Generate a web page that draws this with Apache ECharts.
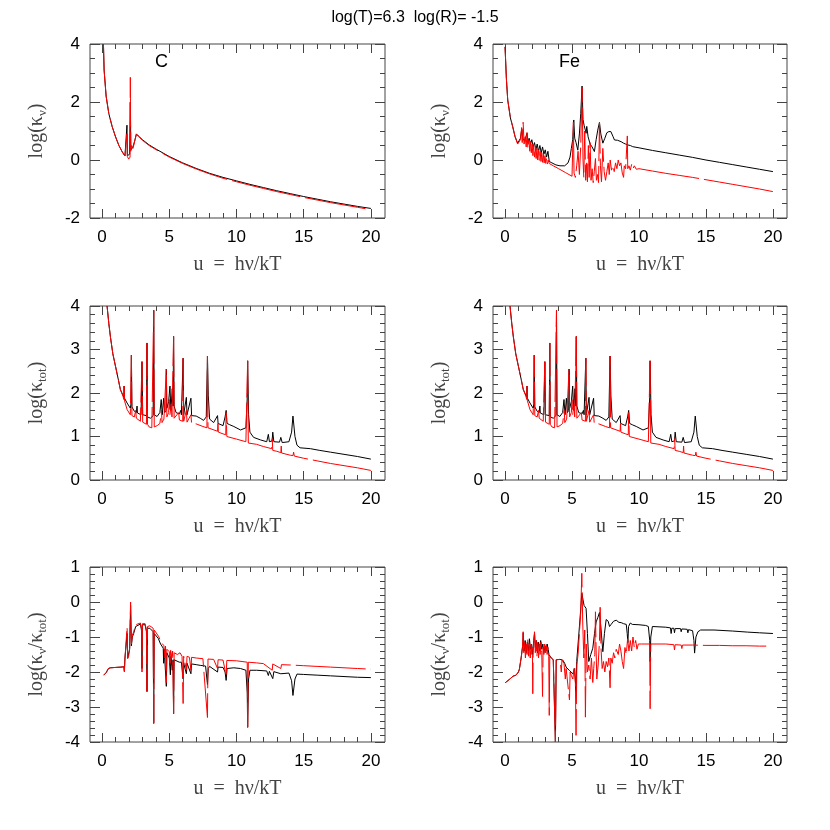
<!DOCTYPE html>
<html>
<head>
<meta charset="utf-8">
<script src="https://cdn.jsdelivr.net/npm/echarts@6/dist/echarts.min.js"></script>
<style>
html, body { margin: 0; background: #fff; }
#chart { width: 830px; height: 830px; }
</style>
</head>
<body>
<div id="chart"></div>
<script>
// tick positions on u axis
const xMajorTicks = [0, 5, 10, 15, 20]
const xMinorTicks = [0, 1, 2, 3, 4, 5, 6, 7, 8, 9, 10, 11, 12, 13, 14, 15, 16, 17, 18, 19, 20]

// C, log(kappa_nu)
const cNuBlack = [[0.1,4.0],[0.15,3.1],[0.3,2.2],[0.5,1.6],[0.75,1.15],[1.0,0.8],[1.25,0.5],[1.5,0.28],[1.7,0.14],[1.82,0.12],[1.85,1.2],[1.88,0.15],[1.95,0.12],[2.05,0.2],[2.1,2.0],[2.14,0.35],[2.3,0.45],[2.45,0.7],[2.55,0.9],[2.7,0.83],[3.0,0.7],[3.5,0.52],[4.0,0.38],[5.0,0.12],[6.0,-0.1],[7.0,-0.29],[8.0,-0.46],[9.0,-0.6],[10.0,-0.72],[11.0,-0.84],[12.0,-0.95],[13.0,-1.06],[14.0,-1.16],[15.0,-1.26],[16.0,-1.35],[17.0,-1.44],[18.0,-1.52],[19.0,-1.6],[20.0,-1.67]]
const cNuRed = [[0.1,4.0],[0.15,3.1],[0.3,2.2],[0.5,1.6],[0.75,1.15],[1.0,0.8],[1.25,0.5],[1.5,0.28],[1.7,0.14],[1.82,0.12],[1.85,0.9],[1.88,0.12],[1.98,0.03],[2.08,0.1],[2.1,2.85],[2.13,0.3],[2.2,0.5],[2.3,0.4],[2.45,0.7],[2.55,0.88],[2.7,0.82],[3.0,0.68],[3.5,0.5],[4.0,0.36],[5.0,0.1],[6.0,-0.12],[7.0,-0.31],[8.0,-0.48],[9.0,-0.63],[10.0,-0.75],[11.0,-0.87],[12.0,-0.98],[13.0,-1.09],[14.0,-1.19],[15.0,-1.29],[16.0,-1.38],[17.0,-1.47],[18.0,-1.55],[19.0,-1.63],[19.6,-1.68]]

// Fe, log(kappa_nu)
const feNuBlack = [[0.0,3.9],[0.1,2.8],[0.2,2.07],[0.4,1.45],[0.57,1.15],[0.75,0.8],[0.94,0.58],[1.05,0.6],[1.15,0.75],[1.24,1.05],[1.32,0.75],[1.44,0.66],[1.55,0.8],[1.64,0.92],[1.72,0.62],[1.8,0.75],[1.9,0.55],[2.0,0.7],[2.1,0.45],[2.2,0.6],[2.3,0.35],[2.4,0.55],[2.5,0.3],[2.6,0.5],[2.7,0.25],[2.8,0.45],[2.9,0.2],[3.0,0.35],[3.1,0.1],[3.2,0.3],[3.3,-0.05],[3.5,-0.1],[3.8,-0.17],[4.1,-0.2],[4.45,-0.2],[4.7,-0.1],[4.85,0.1],[4.95,0.4],[5.05,0.7],[5.13,1.38],[5.2,0.75],[5.3,0.6],[5.43,0.34],[5.55,0.9],[5.65,1.6],[5.75,2.55],[5.82,1.4],[5.9,1.2],[6.05,0.92],[6.1,1.16],[6.2,0.8],[6.35,0.55],[6.5,0.45],[6.67,0.29],[6.8,0.7],[6.92,1.03],[7.05,1.3],[7.15,0.9],[7.3,0.58],[7.45,0.75],[7.6,0.94],[7.75,0.98],[7.9,0.98],[8.05,0.82],[8.17,0.69],[8.4,0.68],[8.67,0.63],[8.85,0.58],[9.0,0.55],[9.15,0.52],[9.25,0.58],[9.35,0.5],[9.53,0.46],[10.0,0.42],[11.0,0.33],[12.0,0.25],[13.0,0.17],[14.0,0.09],[15.0,0.0],[16.0,-0.08],[17.0,-0.16],[18.0,-0.24],[19.0,-0.32],[20.0,-0.4]]
const feNuRed = [[0.0,3.9],[0.1,2.8],[0.2,2.07],[0.4,1.45],[0.57,1.15],[0.75,0.8],[0.94,0.55],[1.05,0.55],[1.15,0.7],[1.24,1.12],[1.28,0.6],[1.35,1.3],[1.42,0.55],[1.5,0.8],[1.58,0.45],[1.64,0.95],[1.7,0.4],[1.78,0.7],[1.85,0.3],[1.9,0.65],[1.96,0.25],[2.02,0.55],[2.08,0.15],[2.14,0.5],[2.2,0.1],[2.26,0.45],[2.32,0.05],[2.38,0.4],[2.44,0.0],[2.5,0.35],[2.56,-0.02],[2.62,0.3],[2.68,-0.05],[2.74,0.25],[2.8,-0.08],[2.86,0.2],[2.92,-0.1],[2.98,0.15],[3.04,-0.12],[3.1,0.05],[3.16,-0.14],[3.22,0.0],[3.3,-0.12],[3.6,-0.2],[4.0,-0.3],[4.5,-0.43],[5.0,-0.56],[5.05,-0.5],[5.1,1.3],[5.15,-0.45],[5.25,-0.6],[5.35,-0.2],[5.45,0.3],[5.55,-0.5],[5.65,0.5],[5.75,2.5],[5.82,0.0],[5.88,-0.6],[5.95,1.0],[6.02,-0.7],[6.1,-0.1],[6.15,-0.75],[6.22,0.5],[6.28,-0.6],[6.35,0.6],[6.42,-0.7],[6.5,-0.3],[6.58,-0.78],[6.66,-0.4],[6.75,0.05],[6.82,-0.7],[6.9,-0.5],[6.98,-0.78],[7.05,1.3],[7.12,-0.2],[7.2,-0.75],[7.3,0.4],[7.4,-0.4],[7.5,-0.7],[7.6,-0.4],[7.7,-0.1],[7.78,-0.5],[7.85,0.0],[7.95,-0.35],[8.05,-0.2],[8.15,-0.4],[8.25,-0.1],[8.35,-0.3],[8.45,0.0],[8.55,-0.2],[8.65,-0.1],[8.75,-0.45],[8.85,-0.6],[8.9,-0.2],[9.0,-0.3],[9.1,-0.25],[9.13,0.83],[9.16,-0.3],[9.25,-0.2],[9.35,-0.35],[9.45,-0.15],[9.55,-0.3],[9.65,-0.2],[9.8,-0.32],[10.0,-0.3],[11.0,-0.38],[12.0,-0.46],[13.0,-0.53],[14.0,-0.6],[15.0,-0.68],[16.0,-0.76],[17.0,-0.84],[18.0,-0.92],[19.0,-1.0],[20.0,-1.09]]

// log(kappa_tot), same in both columns
const totBlack = [[0.37,4.0],[0.5,3.6],[0.62,3.29],[0.8,2.9],[1.0,2.61],[1.2,2.32],[1.36,2.08],[1.55,1.95],[1.62,1.9],[1.64,2.16],[1.67,1.88],[1.86,1.77],[2.1,1.65],[2.15,1.75],[2.18,2.87],[2.22,1.68],[2.4,1.58],[2.55,1.55],[2.6,1.7],[2.63,1.54],[2.9,1.5],[2.97,2.72],[3.02,1.5],[3.3,1.48],[3.34,3.15],[3.38,1.45],[3.6,1.42],[3.8,1.48],[3.84,3.9],[3.88,1.5],[4.09,1.46],[4.3,1.55],[4.4,1.85],[4.48,1.5],[4.58,1.88],[4.66,1.55],[4.75,1.6],[4.78,2.55],[4.82,1.65],[4.95,1.8],[5.05,2.16],[5.12,1.6],[5.22,2.1],[5.28,1.7],[5.32,3.3],[5.36,1.7],[5.5,1.55],[5.75,1.52],[5.85,1.6],[5.9,1.5],[6.03,2.8],[6.07,1.5],[6.27,1.9],[6.32,1.5],[6.61,1.88],[6.66,1.48],[7.0,1.47],[7.3,1.42],[7.55,1.37],[7.75,1.45],[7.84,2.85],[7.9,1.95],[8.0,1.4],[8.3,1.32],[8.59,1.48],[8.63,1.3],[9.0,1.25],[9.15,1.45],[9.23,1.6],[9.3,1.3],[9.5,1.27],[9.8,1.23],[10.3,1.15],[10.7,1.2],[10.8,1.9],[10.83,2.74],[10.9,1.5],[11.0,1.1],[11.27,0.98],[11.8,0.92],[12.25,0.88],[12.37,1.05],[12.45,0.88],[12.65,0.9],[12.7,1.1],[12.78,0.88],[13.2,0.87],[13.3,0.98],[13.4,0.86],[13.9,0.88],[14.1,1.1],[14.2,1.47],[14.35,1.0],[14.5,0.8],[14.73,0.74],[15.5,0.72],[16.2,0.68],[17.0,0.64],[18.0,0.59],[19.0,0.54],[20.0,0.48]]
const totRed = [[0.37,4.0],[0.5,3.6],[0.62,3.29],[0.8,2.9],[1.0,2.61],[1.2,2.32],[1.36,2.08],[1.55,1.93],[1.62,1.85],[1.64,2.16],[1.67,1.82],[1.86,1.62],[2.1,1.5],[2.18,2.87],[2.22,1.48],[2.4,1.45],[2.5,1.6],[2.55,1.42],[2.85,1.35],[2.97,2.72],[3.02,1.33],[3.3,1.28],[3.34,3.15],[3.38,1.28],[3.5,1.22],[3.7,1.2],[3.84,3.9],[3.88,1.22],[4.1,1.25],[4.3,1.3],[4.42,1.6],[4.46,1.32],[4.6,1.4],[4.78,2.55],[4.82,1.45],[4.95,1.55],[5.0,1.85],[5.05,1.5],[5.15,1.75],[5.2,1.45],[5.32,3.3],[5.36,1.42],[5.5,1.4],[5.7,1.55],[5.75,1.38],[6.0,1.35],[6.03,2.8],[6.07,1.35],[6.27,1.6],[6.32,1.33],[6.61,1.5],[6.66,1.3],[7.0,1.29],[7.5,1.23],[7.8,1.2],[7.84,2.85],[7.88,1.2],[8.0,1.17],[8.59,1.12],[8.62,1.3],[8.65,1.1],[9.0,1.06],[9.2,1.04],[9.23,1.55],[9.28,1.0],[10.0,0.94],[10.7,0.88],[10.83,2.74],[10.88,0.85],[11.5,0.82],[12.0,0.77],[12.62,0.72],[12.66,0.95],[12.7,0.68],[13.0,0.66],[13.3,0.63],[13.33,0.78],[13.36,0.62],[14.0,0.57],[14.2,0.56],[14.25,0.64],[14.3,0.55],[15.0,0.5],[16.0,0.44],[17.0,0.38],[18.0,0.33],[19.0,0.28],[20.0,0.22]]

// C, log(kappa_nu / kappa_tot)
const cRatioBlack = [[0.12,-2.09],[0.3,-2.02],[0.47,-1.9],[0.62,-1.88],[1.0,-1.87],[1.4,-1.86],[1.62,-1.85],[1.66,-1.98],[1.7,-1.6],[1.8,-1.55],[1.86,-0.9],[1.9,-1.6],[1.98,-1.6],[2.05,-1.35],[2.12,-0.1],[2.18,-1.25],[2.25,-1.0],[2.35,-0.9],[2.5,-0.7],[2.6,-0.66],[2.85,-0.63],[2.93,-0.8],[2.97,-1.9],[3.0,-0.65],[3.2,-0.65],[3.3,-0.85],[3.34,-2.55],[3.38,-0.75],[3.55,-0.75],[3.8,-0.85],[3.84,-3.45],[3.88,-0.9],[4.0,-0.93],[4.18,-1.04],[4.35,-1.2],[4.55,-1.32],[4.58,-1.75],[4.62,-1.35],[4.78,-2.41],[4.82,-1.45],[4.92,-1.5],[5.0,-1.6],[5.08,-2.08],[5.12,-1.55],[5.22,-1.95],[5.28,-1.65],[5.32,-3.19],[5.36,-1.65],[5.5,-1.7],[5.75,-1.72],[5.9,-1.72],[6.03,-2.2],[6.07,-1.75],[6.27,-2.05],[6.32,-1.75],[6.61,-2.05],[6.66,-1.77],[7.0,-1.79],[7.3,-1.81],[7.7,-1.83],[7.84,-2.36],[7.9,-1.9],[8.0,-1.84],[8.59,-2.0],[8.63,-1.86],[9.0,-1.87],[9.15,-2.0],[9.23,-2.24],[9.3,-1.9],[9.8,-1.88],[10.3,-1.9],[10.7,-1.95],[10.8,-2.6],[10.83,-3.58],[10.9,-2.2],[11.0,-1.95],[11.5,-1.95],[12.25,-1.97],[12.37,-2.1],[12.45,-1.98],[12.7,-2.19],[12.78,-1.99],[13.3,-2.05],[13.4,-2.0],[13.9,-2.03],[14.1,-2.25],[14.2,-2.67],[14.35,-2.2],[14.5,-2.06],[15.0,-2.07],[16.0,-2.09],[17.0,-2.11],[18.0,-2.13],[19.0,-2.15],[20.0,-2.16]]
const cRatioRed = [[0.12,-2.09],[0.3,-2.02],[0.47,-1.9],[0.62,-1.88],[1.0,-1.87],[1.4,-1.86],[1.62,-1.85],[1.66,-2.0],[1.7,-1.62],[1.8,-1.58],[1.86,-0.72],[1.9,-1.62],[1.98,-1.55],[2.05,-1.3],[2.12,0.0],[2.18,-1.2],[2.25,-0.95],[2.35,-0.85],[2.5,-0.65],[2.6,-0.62],[2.85,-0.6],[2.93,-0.75],[2.97,-2.0],[3.0,-0.62],[3.2,-0.62],[3.3,-0.8],[3.34,-2.57],[3.38,-0.7],[3.55,-0.68],[3.8,-0.75],[3.84,-3.48],[3.88,-0.8],[4.0,-0.85],[4.2,-0.98],[4.4,-1.15],[4.6,-1.25],[4.68,-1.6],[4.72,-1.26],[4.78,-2.3],[4.82,-1.35],[5.0,-1.42],[5.05,-1.75],[5.1,-1.38],[5.2,-1.6],[5.25,-1.4],[5.32,-3.19],[5.36,-1.45],[5.6,-1.5],[5.8,-1.45],[5.95,-1.55],[6.03,-2.9],[6.07,-1.55],[6.27,-1.95],[6.32,-1.55],[6.5,-1.58],[6.61,-1.95],[6.66,-1.58],[7.0,-1.6],[7.5,-1.62],[7.84,-3.3],[7.88,-1.63],[8.3,-1.64],[8.59,-1.9],[8.63,-1.65],[9.0,-1.66],[9.23,-2.1],[9.28,-1.67],[10.0,-1.68],[10.8,-1.72],[10.83,-3.58],[10.88,-1.72],[11.5,-1.74],[12.0,-1.76],[12.66,-1.95],[12.7,-1.77],[13.3,-1.9],[13.35,-1.79],[14.0,-1.8],[15.0,-1.82],[16.0,-1.84],[17.0,-1.86],[18.0,-1.88],[19.0,-1.9],[20.0,-1.92]]

// Fe, log(kappa_nu / kappa_tot)
const feRatioBlack = [[0.0,-2.31],[0.3,-2.22],[0.6,-2.12],[0.82,-2.09],[1.0,-2.0],[1.07,-1.92],[1.2,-1.6],[1.32,-1.23],[1.36,-0.88],[1.42,-1.4],[1.5,-1.1],[1.58,-1.45],[1.66,-1.15],[1.74,-1.4],[1.82,-1.05],[1.9,-1.35],[1.98,-1.2],[2.06,-1.5],[2.14,-1.1],[2.2,-0.9],[2.26,-1.3],[2.34,-1.1],[2.42,-1.45],[2.5,-1.15],[2.58,-1.4],[2.66,-1.1],[2.74,-1.35],[2.82,-1.2],[2.9,-1.45],[2.98,-1.25],[3.06,-1.4],[3.14,-1.2],[3.22,-1.35],[3.28,-1.5],[3.35,-1.55],[3.45,-1.6],[3.6,-1.65],[3.72,-1.7],[3.76,-4.0],[3.82,-1.65],[3.93,-1.62],[4.1,-1.64],[4.31,-1.66],[4.45,-1.75],[4.56,-1.86],[4.7,-1.9],[4.81,-1.96],[4.95,-2.0],[5.06,-2.05],[5.2,-1.9],[5.3,-2.6],[5.35,-1.7],[5.45,-1.2],[5.55,-0.71],[5.65,-0.2],[5.73,0.25],[5.8,0.2],[5.9,-0.1],[6.05,-0.18],[6.15,-0.9],[6.25,-1.7],[6.4,-1.5],[6.55,-1.32],[6.68,-0.9],[6.8,-0.57],[6.92,-0.45],[7.05,-0.3],[7.15,-0.7],[7.3,-1.42],[7.42,-0.9],[7.55,-0.5],[7.7,-0.55],[7.8,-0.7],[7.92,-0.64],[8.1,-0.55],[8.3,-0.52],[8.5,-0.58],[8.67,-0.59],[8.85,-0.62],[9.05,-0.64],[9.12,-0.9],[9.17,-1.16],[9.22,-0.7],[9.35,-0.6],[9.5,-0.64],[10.0,-0.65],[10.5,-0.67],[10.7,-0.7],[10.8,-1.1],[10.83,-1.7],[10.88,-1.0],[11.0,-0.7],[12.0,-0.72],[12.35,-0.74],[12.4,-0.9],[12.45,-0.75],[12.6,-0.75],[12.65,-0.88],[12.7,-0.76],[13.1,-0.76],[13.15,-0.85],[13.2,-0.77],[13.6,-0.78],[13.65,-0.88],[13.7,-0.79],[14.0,-0.82],[14.1,-1.1],[14.15,-1.46],[14.25,-1.0],[14.4,-0.85],[14.6,-0.8],[15.6,-0.8],[17.0,-0.83],[18.1,-0.86],[19.0,-0.88],[20.0,-0.9]]
const feRatioRed = [[0.0,-2.31],[0.3,-2.22],[0.6,-2.12],[0.82,-2.09],[1.0,-2.0],[1.07,-1.92],[1.2,-1.6],[1.3,-1.3],[1.35,-0.85],[1.4,-1.45],[1.46,-1.15],[1.52,-1.6],[1.58,-1.2],[1.64,-1.5],[1.7,-1.05],[1.76,-1.55],[1.82,-1.25],[1.88,-1.6],[1.94,-1.2],[2.0,-1.5],[2.04,-1.3],[2.07,-2.62],[2.1,-1.4],[2.16,-1.05],[2.2,-0.85],[2.26,-1.45],[2.32,-1.1],[2.38,-1.55],[2.44,-1.15],[2.5,-1.6],[2.56,-1.2],[2.62,-1.5],[2.68,-1.15],[2.74,-1.45],[2.8,-2.7],[2.84,-1.3],[2.9,-1.5],[2.96,-1.2],[3.02,-1.45],[3.08,-1.25],[3.14,-1.5],[3.2,-1.3],[3.26,-1.55],[3.3,-3.24],[3.34,-1.55],[3.45,-1.6],[3.6,-1.65],[3.72,-1.7],[3.76,-4.0],[3.82,-1.65],[3.93,-1.62],[4.1,-1.64],[4.2,-2.0],[4.25,-1.66],[4.4,-1.75],[4.5,-2.2],[4.56,-1.9],[4.7,-1.95],[4.81,-2.8],[4.86,-2.0],[4.95,-2.1],[5.06,-2.2],[5.15,-1.9],[5.25,-2.3],[5.3,-3.81],[5.36,-1.8],[5.45,-1.5],[5.55,-0.9],[5.65,-0.3],[5.73,0.82],[5.8,-0.6],[5.88,-1.6],[5.95,-0.8],[6.0,-3.29],[6.06,-1.2],[6.15,-2.0],[6.25,-1.8],[6.35,-2.2],[6.45,-1.6],[6.55,-2.3],[6.62,-1.9],[6.7,-1.5],[6.75,-0.28],[6.8,-1.4],[6.85,-2.2],[6.95,-1.8],[7.05,-1.1],[7.1,-0.15],[7.16,-1.3],[7.25,-1.9],[7.35,-1.7],[7.45,-2.0],[7.55,-1.7],[7.65,-1.85],[7.75,-1.6],[7.84,-2.45],[7.9,-1.6],[8.0,-1.75],[8.1,-1.45],[8.2,-1.6],[8.3,-1.35],[8.45,-1.5],[8.55,-1.2],[8.65,-1.4],[8.75,-1.7],[8.85,-1.9],[8.95,-1.3],[9.05,-1.5],[9.15,-1.05],[9.25,-1.4],[9.35,-1.1],[9.45,-1.4],[9.55,-1.0],[9.65,-1.3],[9.75,-1.1],[9.85,-1.35],[9.95,-1.2],[10.2,-1.2],[10.8,-1.2],[10.83,-3.05],[10.88,-1.2],[12.0,-1.2],[12.6,-1.22],[12.65,-1.37],[12.7,-1.22],[13.15,-1.23],[13.2,-1.33],[13.25,-1.23],[14.0,-1.23],[15.0,-1.24],[16.0,-1.24],[17.0,-1.25],[18.0,-1.25],[19.0,-1.26],[19.5,-1.26]]

const tickColor = '#444'
const serif = "'Liberation Serif', 'DejaVu Serif', serif"
const sans = "'Liberation Sans', Arial, sans-serif"
const xName = 'u  =  hν/kT'

const nuName = 'log(κ{s|ν})'
const totName = 'log(κ{s|tot})'
const ratioName = 'log(κ{s|ν}/κ{s|tot})'

const panels = [
  {left: 90, top: 44, width: 295, height: 174, ymin: -2, ymax: 4, yint: 2, ysplit: 4, yname: nuName, black: cNuBlack, red: cNuRed},
  {left: 493, top: 44, width: 294, height: 174, ymin: -2, ymax: 4, yint: 2, ysplit: 4, yname: nuName, black: feNuBlack, red: feNuRed},
  {left: 90, top: 306, width: 295, height: 174, ymin: 0, ymax: 4, yint: 1, ysplit: 5, yname: totName, black: totBlack, red: totRed},
  {left: 493, top: 306, width: 294, height: 174, ymin: 0, ymax: 4, yint: 1, ysplit: 5, yname: totName, black: totBlack, red: totRed},
  {left: 90, top: 567, width: 295, height: 175, ymin: -4, ymax: 1, yint: 1, ysplit: 5, yname: ratioName, black: cRatioBlack, red: cRatioRed},
  {left: 493, top: 567, width: 294, height: 175, ymin: -4, ymax: 1, yint: 1, ysplit: 5, yname: ratioName, black: feRatioBlack, red: feRatioRed}
]

let grids = []
let xAxes = []
let yAxes = []
let series = []

panels.forEach((p, i) => {
  grids.push({left: p.left, top: p.top, width: p.width, height: p.height, show: true, borderColor: tickColor, borderWidth: 1})
  ;['bottom', 'top'].forEach(pos => {
    let main = pos === 'bottom'
    xAxes.push({
      gridIndex: i, type: 'value', position: pos, min: -0.9, max: 21.05,
      axisLine: {show: false, onZero: false}, splitLine: {show: false},
      axisTick: {show: true, inside: true, length: 9, customValues: xMajorTicks, lineStyle: {color: tickColor}},
      axisLabel: {show: main, customValues: xMajorTicks, color: '#000', fontSize: 17, fontFamily: sans, margin: 11},
      name: main ? xName : '', nameLocation: 'middle', nameGap: 37,
      nameTextStyle: {color: '#444', fontFamily: serif, fontSize: 20}
    })
    xAxes.push({
      gridIndex: i, type: 'value', position: pos, min: -0.9, max: 21.05,
      axisLine: {show: false, onZero: false}, splitLine: {show: false},
      axisTick: {show: true, inside: true, length: 5, customValues: xMinorTicks, lineStyle: {color: tickColor}},
      axisLabel: {show: false}
    })
  })
  ;['left', 'right'].forEach(pos => {
    let main = pos === 'left'
    yAxes.push({
      gridIndex: i, type: 'value', position: pos, min: p.ymin, max: p.ymax, interval: p.yint,
      axisLine: {show: false, onZero: false}, splitLine: {show: false},
      axisTick: {show: true, inside: true, length: 10, lineStyle: {color: tickColor}},
      minorTick: {show: true, splitNumber: p.ysplit, length: 5, lineStyle: {color: tickColor}},
      axisLabel: {show: main, color: '#000', fontSize: 17, fontFamily: sans, margin: 10},
      name: main ? p.yname : '', nameLocation: 'middle', nameGap: 41, nameRotate: 90,
      nameTextStyle: {
        color: '#444', fontFamily: serif, fontSize: 20, lineHeight: 24,
        rich: {s: {fontFamily: serif, fontSize: 13, lineHeight: 24, verticalAlign: 'bottom', padding: [8, 0, 0, 0]}}
      }
    })
  })
  series.push({
    type: 'line', xAxisIndex: i * 4, yAxisIndex: i * 2, data: p.black,
    showSymbol: false, symbol: 'none', z: 2,
    lineStyle: {color: '#000', width: 1}
  })
  series.push({
    type: 'line', xAxisIndex: i * 4, yAxisIndex: i * 2, data: p.red,
    showSymbol: false, symbol: 'none', z: 3,
    lineStyle: {color: '#ff0000', width: 1, type: [70, 5]}
  })
})

let option = {
  animation: false,
  backgroundColor: '#fff',
  title: {
    text: 'log(T)=6.3  log(R)= -1.5',
    left: 'center', top: 5,
    textStyle: {color: '#000', fontFamily: sans, fontSize: 16, fontWeight: 'normal'}
  },
  graphic: [
    {type: 'text', left: 155, top: 53, style: {text: 'C', fill: '#000', font: '18px ' + sans}},
    {type: 'text', left: 559, top: 53, style: {text: 'Fe', fill: '#000', font: '18px ' + sans}}
  ],
  grid: grids,
  xAxis: xAxes,
  yAxis: yAxes,
  series: series
}

let myChart = echarts.init(document.getElementById('chart'), null, {renderer: 'canvas'})
myChart.setOption(option)
</script>
</body>
</html>
